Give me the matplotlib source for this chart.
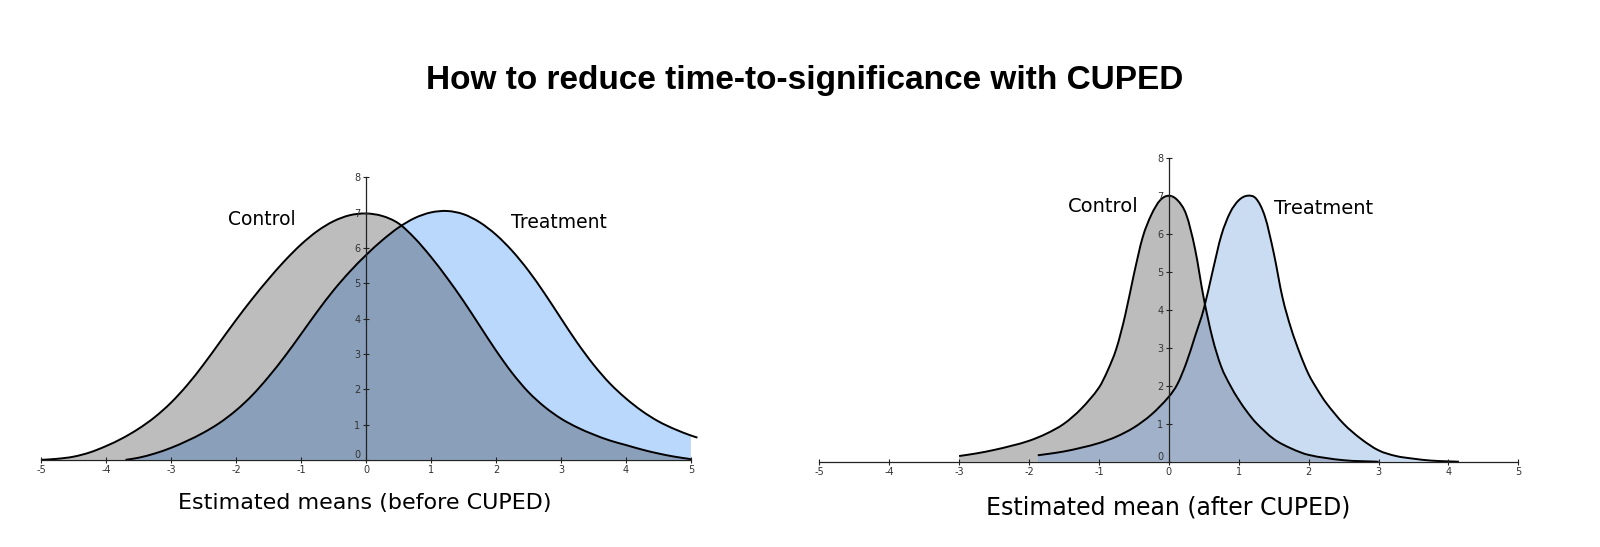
"""Two-panel CUPED illustration: estimated means before / after variance reduction."""

import matplotlib
matplotlib.use("Agg")
import matplotlib.pyplot as plt
import numpy as np
from matplotlib.patches import PathPatch
from matplotlib.path import Path

plt.rcParams["axes.unicode_minus"] = False

# ---- data (x, density-ish height) ----
LEFT_CTRL_X = [-5.0, -4.75, -4.5, -4.25, -4.0, -3.75, -3.5, -3.25, -3.0, -2.75, -2.5,
               -2.25, -2.0, -1.75, -1.5, -1.25, -1.0, -0.75, -0.5, -0.25, 0.0, 0.25,
               0.5, 0.75, 1.0, 1.25, 1.5, 1.75, 2.0, 2.25, 2.5, 2.75, 3.0, 3.25, 3.5,
               3.75, 4.0, 4.25, 4.5, 4.75, 5.0]
LEFT_CTRL_Y = [0.0, 0.03, 0.09, 0.21, 0.39, 0.61, 0.88, 1.21, 1.62, 2.12, 2.7,
               3.33, 3.96, 4.56, 5.12, 5.64, 6.1, 6.48, 6.76, 6.93, 6.98, 6.91,
               6.7, 6.28, 5.75, 5.15, 4.5, 3.8, 3.1, 2.46, 1.92, 1.5, 1.17, 0.92, 0.72,
               0.55, 0.42, 0.29, 0.18, 0.09, 0.02]

LEFT_TRT_X = [-3.7, -3.5, -3.25, -3.0, -2.75, -2.5, -2.25, -2.0, -1.75, -1.5, -1.25,
              -1.0, -0.75, -0.5, -0.25, 0.0, 0.25, 0.5, 0.75, 1.0, 1.25, 1.5, 1.75,
              2.0, 2.25, 2.5, 2.75, 3.0, 3.25, 3.5, 3.75, 4.0, 4.25, 4.5, 4.75, 5.0, 5.1]
LEFT_TRT_Y = [0.0, 0.06, 0.18, 0.34, 0.54, 0.77, 1.05, 1.4, 1.83, 2.35, 2.93,
              3.56, 4.2, 4.8, 5.33, 5.8, 6.22, 6.58, 6.85, 7.01, 7.05, 6.96, 6.73,
              6.38, 5.92, 5.36, 4.71, 4.01, 3.32, 2.7, 2.17, 1.74, 1.38, 1.09, 0.87, 0.69, 0.63]

RIGHT_CTRL_X = [-3.0, -2.75, -2.5, -2.25, -2.0, -1.75, -1.5, -1.25, -1.0, -0.875, -0.75,
                -0.625, -0.5, -0.375, -0.25, -0.125, 0.0, 0.125, 0.25, 0.375, 0.5,
                0.625, 0.75, 0.875, 1.0, 1.125, 1.25, 1.5, 1.75, 2.0, 2.5, 3.0]
RIGHT_CTRL_Y = [0.15, 0.22, 0.31, 0.42, 0.55, 0.74, 1.0, 1.4, 1.95, 2.4, 2.98,
                3.85, 4.93, 5.9, 6.5, 6.88, 7.0, 6.88, 6.5, 5.6, 4.3,
                3.25, 2.5, 2.02, 1.63, 1.3, 1.02, 0.6, 0.35, 0.18, 0.04, 0.0]

RIGHT_TRT_X = [-1.875, -1.75, -1.5, -1.25, -1.0, -0.75, -0.5, -0.25, 0.0, 0.125, 0.25,
               0.375, 0.5, 0.625, 0.75, 0.875, 1.0, 1.125, 1.25, 1.375, 1.5, 1.625,
               1.75, 1.875, 2.0, 2.125, 2.25, 2.5, 2.75, 3.0, 3.25, 3.5, 3.75, 4.0, 4.15]
RIGHT_TRT_Y = [0.17, 0.2, 0.27, 0.37, 0.49, 0.66, 0.9, 1.24, 1.71, 2.05, 2.6,
               3.3, 4.02, 5.0, 5.95, 6.55, 6.88, 7.0, 6.92, 6.45, 5.5, 4.33,
               3.5, 2.85, 2.3, 1.9, 1.55, 1.0, 0.6, 0.3, 0.15, 0.08, 0.03, 0.01, 0.0]

X_TICKS = list(range(-5, 6))
Y_TICKS = list(range(0, 9))

TITLE = "How to reduce time-to-significance with CUPED"
LEFT_XLABEL = "Estimated means (before CUPED)"
RIGHT_XLABEL = "Estimated mean (after CUPED)"


def smooth_path(x, y, close=False):
    """Cubic Hermite Bezier path through the read points (drawing only)."""
    x, y = np.asarray(x, float), np.asarray(y, float)
    n = len(x)
    m = np.empty(n)
    m[1:-1] = (y[2:] - y[:-2]) / (x[2:] - x[:-2])
    m[0] = (y[1] - y[0]) / (x[1] - x[0])
    m[-1] = (y[-1] - y[-2]) / (x[-1] - x[-2])
    verts = [(x[0], y[0])]
    codes = [Path.MOVETO]
    for i in range(n - 1):
        h = x[i + 1] - x[i]
        verts += [(x[i] + h / 3, y[i] + m[i] * h / 3),
                  (x[i + 1] - h / 3, y[i + 1] - m[i + 1] * h / 3),
                  (x[i + 1], y[i + 1])]
        codes += [Path.CURVE4] * 3
    if close:
        verts += [(x[-1], 0), (x[0], 0), (x[0], y[0])]
        codes += [Path.LINETO, Path.LINETO, Path.CLOSEPOLY]
    return Path(verts, codes)


def draw_panel(ax, cx, cy, tx, ty, gray, blue, overlap, fill_xmax, label_pos, label_size):
    tx_a, ty_a = np.asarray(tx), np.asarray(ty)
    keep = tx_a <= fill_xmax

    ctrl_fill = PathPatch(smooth_path(cx, cy, close=True), fc=gray, lw=0, zorder=1)
    ax.add_patch(ctrl_fill)
    trt_path = smooth_path(tx_a[keep], ty_a[keep], close=True)
    ax.add_patch(PathPatch(trt_path, fc=blue, lw=0, zorder=1))
    # overlap region: treatment area clipped to the control area
    ovl = PathPatch(trt_path, fc=overlap, lw=0, zorder=2)
    ax.add_patch(ovl)
    ovl.set_clip_path(ctrl_fill)

    for px, py in ((cx, cy), (tx, ty)):
        ax.add_patch(PathPatch(smooth_path(px, py), fill=False, ec="black",
                               lw=1.4, zorder=4, capstyle="butt"))

    (c_x, c_y), (t_x, t_y) = label_pos
    ax.text(c_x, c_y, "Control", ha="center", va="baseline", fontsize=label_size)
    ax.text(t_x, t_y, "Treatment", ha="center", va="baseline", fontsize=label_size)

    # axes through the origin
    for side in ("top", "right"):
        ax.spines[side].set_visible(False)
    ax.spines["left"].set_position(("data", 0))
    ax.spines["bottom"].set_position(("data", 0))
    ax.spines["left"].set_bounds(0, 8)
    ax.spines["bottom"].set_bounds(-5, 5)
    for side in ("left", "bottom"):
        ax.spines[side].set_linewidth(0.9)
        ax.spines[side].set_color("#222222")
        ax.spines[side].set_zorder(5)
    ax.xaxis.set_zorder(6)
    ax.yaxis.set_zorder(6)

    ax.set_xlim(-5.1, 5.2)
    ax.set_ylim(-0.2, 8.1)
    ax.set_xticks(X_TICKS)
    ax.set_yticks(Y_TICKS)
    ax.tick_params(direction="inout", length=4, width=0.8, labelsize=7,
                   labelcolor="#333333", color="#222222", pad=2)
    for lab in ax.get_yticklabels():
        if lab.get_text() == "0":
            lab.set_verticalalignment("bottom")
    ax.set_facecolor("none")


def main():
    fig = plt.figure(figsize=(16, 5.47), dpi=100)

    ax_l = fig.add_axes([0.02156, 0.1464, 0.4184, 0.5356])
    ax_r = fig.add_axes([0.5077, 0.1420, 0.4500, 0.5766])

    draw_panel(ax_l, LEFT_CTRL_X, LEFT_CTRL_Y, LEFT_TRT_X, LEFT_TRT_Y,
               gray="#bdbdbd", blue="#b9d8fb", overlap="#8a9fba", fill_xmax=5.0,
               label_pos=((-1.6, 6.65), (2.97, 6.56)), label_size=13.5)
    draw_panel(ax_r, RIGHT_CTRL_X, RIGHT_CTRL_Y, RIGHT_TRT_X, RIGHT_TRT_Y,
               gray="#bcbcbc", blue="#c9dcf2", overlap="#a0b1c9", fill_xmax=5.0,
               label_pos=((-0.94, 6.58), (2.21, 6.52)), label_size=14)

    fig.text(365 / 1600, 1 - 509 / 547, LEFT_XLABEL, ha="center", va="baseline", fontsize=16)
    fig.text(1168.5 / 1600, 1 - 515 / 547, RIGHT_XLABEL, ha="center", va="baseline", fontsize=17)
    fig.text(804.5 / 1600, 1 - 89 / 547, TITLE, ha="center", va="baseline",
             fontsize=24, fontweight="bold", family=["Liberation Sans", "DejaVu Sans"])

    fig.savefig("out.png", dpi=100, facecolor="white")
    plt.close(fig)


if __name__ == "__main__":
    main()
